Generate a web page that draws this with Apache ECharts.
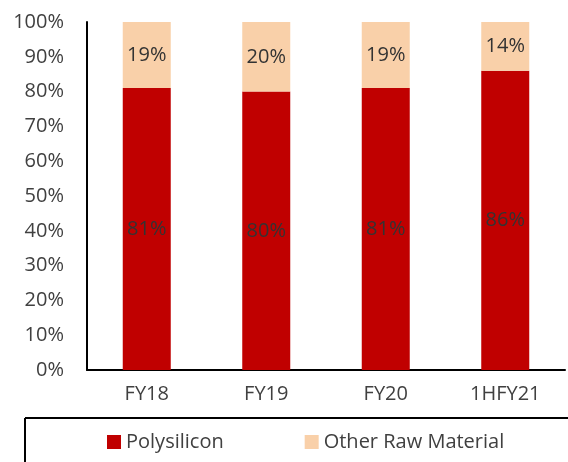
<!DOCTYPE html>
<html><head><meta charset="utf-8">
<script src="https://cdn.jsdelivr.net/npm/echarts@6/dist/echarts.min.js"></script>
<style>html,body{margin:0;padding:0;background:#fff}#c{width:568px;height:462px}</style>
</head><body><div id="c"></div>
<script>
const categories = ['FY18','FY19','FY20','1HFY21'];
const polysilicon = [81, 80, 81, 86];
const otherRaw = [19, 20, 19, 14];
const yTicks = [0,10,20,30,40,50,60,70,80,90,100];

const font = '"Open Sans", sans-serif';
const chart = echarts.init(document.getElementById('c'), null, {renderer:'canvas'});
chart.setOption({
  animation:false,
  backgroundColor:'#fff',
  textStyle:{fontFamily:font},
  grid:{left:87, right:3, top:22, bottom:92, containLabel:false},
  legend:{
    left:107, top:432, padding:0, itemWidth:14, itemHeight:14, itemGap:81,
    icon:'rect',
    textStyle:{fontFamily:font, fontSize:20, color:'#404040'},
    data:['Polysilicon','Other Raw Material']
  },
  xAxis:{
    type:'category', data:categories,
    axisLine:{lineStyle:{color:'#000', width:2}},
    axisTick:{show:false},
    axisLabel:{fontFamily:font, fontSize:20, color:'#404040', margin:14}
  },
  yAxis:{
    type:'value', min:0, max:100, interval:10,
    axisLine:{show:true, lineStyle:{color:'#000', width:2}},
    axisTick:{show:false},
    splitLine:{show:false},
    axisLabel:{fontFamily:font, fontSize:20, color:'#404040', margin:23,
      formatter:v=>yTicks.includes(v)?v+'%':''}
  },
  series:[
    {name:'Polysilicon', type:'bar', stack:'a', data:polysilicon, barWidth:48,
     itemStyle:{color:'#C00000'},
     label:{show:true, position:'inside', formatter:p=>p.value+'%', fontFamily:font, fontSize:20, color:'#333'}},
    {name:'Other Raw Material', type:'bar', stack:'a', data:otherRaw, barWidth:48,
     itemStyle:{color:'#F9D0A9'},
     label:{show:true, position:'inside', formatter:p=>p.value+'%', fontFamily:font, fontSize:20, color:'#333'}}
  ],
  graphic:[
    {type:'line', shape:{x1:25,y1:418,x2:568,y2:418}, style:{stroke:'#000', lineWidth:2}, silent:true},
    {type:'line', shape:{x1:25,y1:418,x2:25,y2:462}, style:{stroke:'#000', lineWidth:2}, silent:true}
  ]
});
</script></body></html>
